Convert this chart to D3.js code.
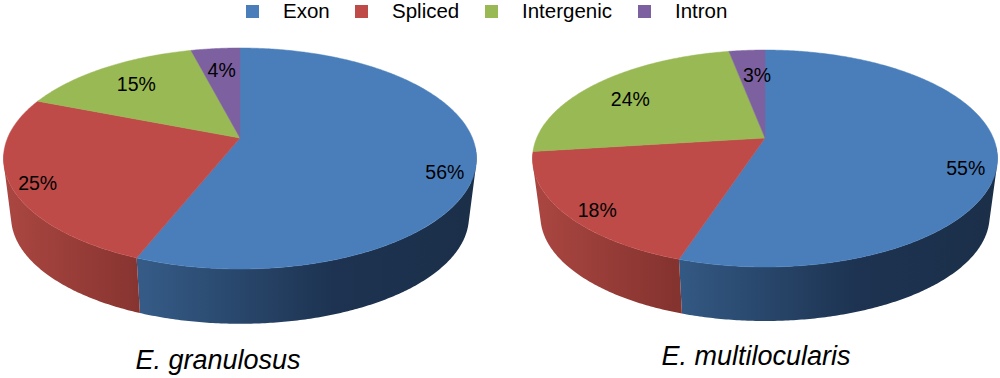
<!DOCTYPE html>
<html>
<head>
<meta charset="utf-8">
<script src="https://cdn.jsdelivr.net/npm/d3@7"></script>
<style>
  html, body { margin: 0; background: #fff; }
  text { font-family: "Liberation Sans", Arial, sans-serif; fill: #000; }
</style>
</head>
<body>
<div id="chart"></div>
<script>
// Values
const categories = ['Exon', 'Spliced', 'Intergenic', 'Intron'];
const granulosus = [56, 25, 15, 4];
const multilocularis = [55, 18, 24, 3];
const speciesNames = ['E. granulosus', 'E. multilocularis'];

const WIDTH = 1000;
const HEIGHT = 378;

const topColor = d3.scaleOrdinal(categories, ['#4a7ebb', '#be4b48', '#98b954', '#7d60a0']);
// side wall shading, left to right: [offset, colour]
const sideStops = {
  Exon: [[0, '#3d6694'], [0.3, '#345a85'], [0.7, '#1d3351'], [1, '#1b2f49']],
  Spliced: [[0, '#aa4641'], [0.3, '#85332f'], [1, '#85332f']],
  Intergenic: [[0, '#6f8a3c'], [1, '#6f8a3c']],
  Intron: [[0, '#5a4475'], [1, '#5a4475']],
};

// Each pie is a tilted disc: apex is where the slices meet, the rim is a projected circle.
// k = perspective strength, labelNudge = px offset of each label from its slice position
const pies = [
  { values: granulosus, name: speciesNames[0], cx: 240, apexY: 138, k: 0.1855, a: 106.7, R: 232.4,
    wallApexY: 197, wallScale: 0.968, titleX: 218, titleY: 369,
    labelNudge: [[17, 18], [-21, 9], [7, 4], [2, 6]] },
  { values: multilocularis, name: speciesNames[1], cx: 765, apexY: 138, k: 0.189, a: 104.6, R: 228.3,
    wallApexY: 196.4, wallScale: 0.966, titleX: 756, titleY: 365,
    labelNudge: [[16, 17], [-12, 13], [1, 6], [7, 9]] },
];

const LABEL_R = 0.8;
// only the front of the wall is visible, the rest sits behind the top face
const WALL_FROM = 95 * Math.PI / 180;
const WALL_TO = 262 * Math.PI / 180;

const svg = d3.select('#chart').append('svg')
  .attr('width', WIDTH)
  .attr('height', HEIGHT)
  .style('display', 'block');

const defs = svg.append('defs');
const line = d3.line();

// angle is clockwise from the top of the pie, r is 0..1 along the radius
function project(p, angle, r = 1, wall = false) {
  const u = r * Math.sin(angle);
  const v = -r * Math.cos(angle);
  const w = 1 - p.k * v;
  const s = wall ? p.wallScale : 1;
  const y0 = wall ? p.wallApexY : p.apexY;
  return [p.cx + s * p.R * u / w, y0 + s * p.a * v / w];
}

function arcAngles(a0, a1) {
  const n = Math.max(2, Math.ceil((a1 - a0) / 0.01));
  return d3.range(n + 1).map(i => a0 + (a1 - a0) * i / n);
}

// wall as thin quads, all wound the same way so the fold at the pie's sides stays filled
function wallPath(p, a0, a1) {
  const angles = arcAngles(a0, a1);
  return d3.pairs(angles).map(([s, e]) => {
    const quad = [project(p, s), project(p, e), project(p, e, 1, true), project(p, s, 1, true)];
    if (d3.polygonArea(quad) < 0) quad.reverse();
    return line(quad) + 'Z';
  }).join('');
}

pies.forEach((p, pi) => {
  const arcs = d3.pie().sort(null)(p.values);
  const g = svg.append('g');

  // side wall gradients span the pie width
  categories.forEach(c => {
    defs.append('linearGradient')
      .attr('id', `side-${pi}-${c}`)
      .attr('gradientUnits', 'userSpaceOnUse')
      .attr('x1', p.cx - p.R).attr('x2', p.cx + p.R)
      .attr('y1', 0).attr('y2', 0)
      .selectAll('stop')
      .data(sideStops[c])
      .join('stop')
      .attr('offset', d => d[0])
      .attr('stop-color', d => d[1]);
  });

  // front wall, drawn first so the top face covers its back part
  arcs.forEach((d, i) => {
    const a0 = Math.max(d.startAngle, WALL_FROM);
    const a1 = Math.min(d.endAngle, WALL_TO);
    if (a1 <= a0) return;
    g.append('path')
      .attr('d', wallPath(p, a0, a1))
      .attr('fill', `url(#side-${pi}-${categories[i]})`);
  });

  // top face
  arcs.forEach((d, i) => {
    const pts = [[p.cx, p.apexY]].concat(arcAngles(d.startAngle, d.endAngle).map(a => project(p, a)));
    g.append('path')
      .attr('d', line(pts) + 'Z')
      .attr('fill', topColor(categories[i]))
      .attr('stroke', topColor(categories[i]))
      .attr('stroke-width', 0.5);
  });

  // percent labels
  arcs.forEach((d, i) => {
    const [x, y] = project(p, (d.startAngle + d.endAngle) / 2, LABEL_R);
    g.append('text')
      .attr('x', x + p.labelNudge[i][0])
      .attr('y', y + p.labelNudge[i][1])
      .attr('dy', '0.36em')
      .attr('text-anchor', 'middle')
      .attr('font-size', 19.5)
      .text(`${d.data}%`);
  });

  g.append('text')
    .attr('x', p.titleX)
    .attr('y', p.titleY)
    .attr('text-anchor', 'middle')
    .attr('font-size', 27)
    .attr('font-style', 'italic')
    .text(p.name);
});

// Legend
const legendX = d3.scaleOrdinal(categories, [246, 355, 485, 638]);
const legend = svg.append('g').selectAll('g')
  .data(categories)
  .join('g')
  .attr('transform', d => `translate(${legendX(d)}, 5)`);

legend.append('rect')
  .attr('width', 13)
  .attr('height', 13)
  .attr('fill', d => topColor(d));

legend.append('text')
  .attr('x', 37)
  .attr('y', 13)
  .attr('font-size', 20.5)
  .text(d => d);
</script>
</body>
</html>
